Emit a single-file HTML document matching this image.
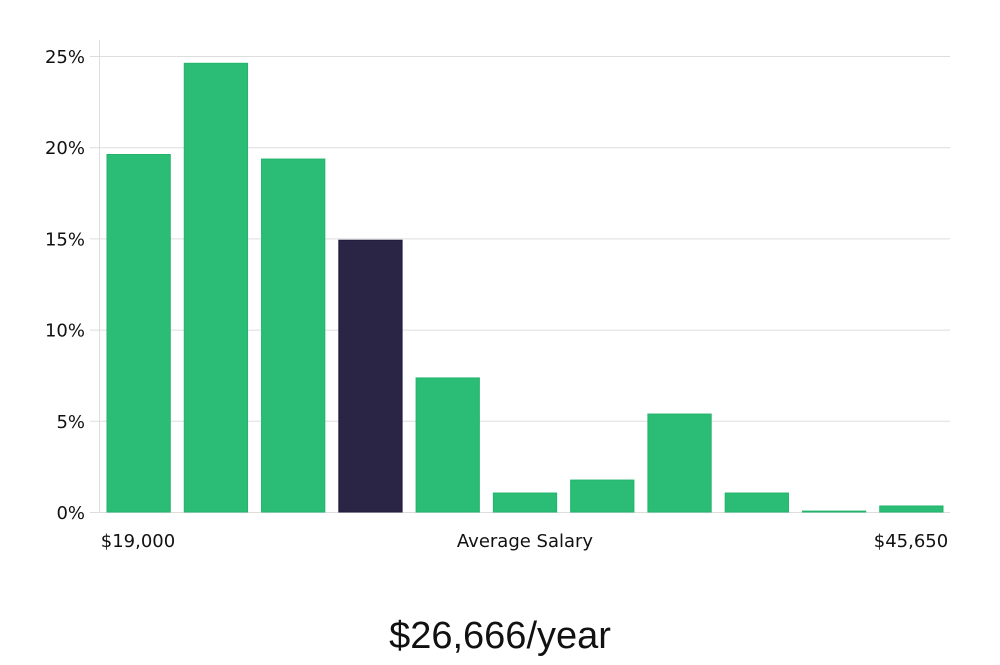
<!DOCTYPE html>
<html><head><meta charset="utf-8"><style>
body{margin:0;background:#fff;width:1000px;height:660px;overflow:hidden}
svg text{font-family:"DejaVu Sans","Liberation Sans",sans-serif;fill:#111}
</style></head><body>
<svg id="chart" width="1000" height="660" xmlns="http://www.w3.org/2000/svg">
<g id="grid"></g><g id="bars"></g><g id="ylab"></g>
<text x="138" y="547" font-size="18" text-anchor="middle">$19,000</text>
<text x="525" y="547" font-size="18" text-anchor="middle">Average Salary</text>
<text x="911" y="547" font-size="18" text-anchor="middle">$45,650</text>
<text x="500" y="648" font-size="38" text-anchor="middle" style="font-family:'Liberation Sans',sans-serif;font-weight:300" fill="#111">$26,666/year</text>
</svg>
<script>
const values=[19.6,24.6,19.35,14.9,7.35,1.04,1.75,5.37,1.04,0.05,0.33];
const highlight=[false,false,false,true,false,false,false,false,false,false,false];
const ticks=[0,5,10,15,20,25];
const tickLabels=["0%","5%","10%","15%","20%","25%"];
const NS="http://www.w3.org/2000/svg";
const x0=100,x1=950,y0=512,ppu=(512-56)/25;
const y=v=>y0-v*ppu;
const slot=(x1-x0)/values.length;
const grid=document.getElementById('grid'),bars=document.getElementById('bars'),yl=document.getElementById('ylab');
function mk(t,a,p){const e=document.createElementNS(NS,t);for(const k in a)e.setAttribute(k,a[k]);p.appendChild(e);return e;}
const ax=mk('line',{x1:99.5,x2:99.5,y1:40,y2:512,stroke:'#ddd','stroke-width':1},grid);


ticks.forEach((t,i)=>{
 const g=mk('line',{x1:90,x2:950,y1:y(t)+0.5,y2:y(t)+0.5,stroke:'#ddd','stroke-width':1},grid);
 
 
 const l=mk('text',{x:85,y:y(t)+7,'font-size':18,'text-anchor':'end'},yl);
 l.textContent=tickLabels[i];
 
 
});
values.forEach((v,i)=>{
 const r=mk('rect',{x:x0+slot*i+7,y:y(v),width:slot-14,height:y0-y(v),fill:highlight[i]?'#2a2545':'#2bbd75',stroke:highlight[i]?'#1f1a40':'#22b46b','stroke-width':1},bars);
 
 
});
</script>
</body></html>
